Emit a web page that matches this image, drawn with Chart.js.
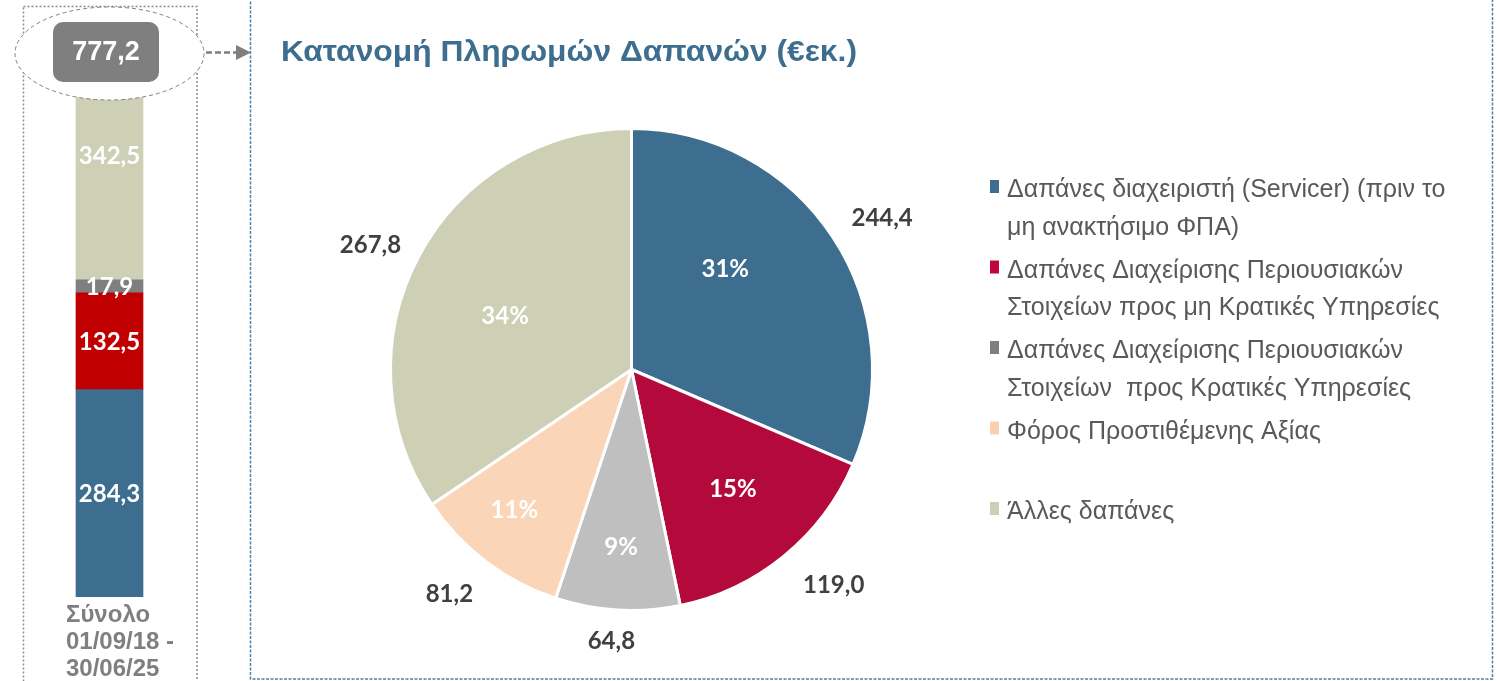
<!DOCTYPE html>
<html>
<head>
<meta charset="utf-8">
<script src="https://cdn.jsdelivr.net/npm/chart.js@4.4.1/dist/chart.umd.min.js"></script>
<style>
  html, body { margin: 0; padding: 0; background: #fff; }
  #wrap { position: relative; width: 1497px; height: 681px; overflow: hidden; }
  canvas { position: absolute; left: 0; top: 0; }
</style>
</head>
<body>
<div id="wrap">
  <canvas id="totalChart" width="260" height="681"></canvas>
  <canvas id="splitChart" width="1497" height="681"></canvas>
</div>
<script>
// Total column: one stacked bar, bottom to top
const totalCategory = [['Σύνολο', '01/09/18 -', '30/06/25']];
const totalSeries = ['Διαχειριστής', 'Μη Κρατικές Υπηρεσίες', 'Κρατικές Υπηρεσίες', 'Άλλες δαπάνες'];
const totalValues = [284.3, 132.5, 17.9, 342.5];
const totalColors = ['#3d6e8f', '#c00000', '#7f7f7f', '#cdd0b5'];

// Pie breakdown, clockwise from 12 o'clock
const pieLabels = [
    ['Δαπάνες διαχειριστή (Servicer) (πριν το', 'μη ανακτήσιμο ΦΠΑ)'],
    ['Δαπάνες Διαχείρισης Περιουσιακών', 'Στοιχείων προς μη Κρατικές Υπηρεσίες'],
    ['Δαπάνες Διαχείρισης Περιουσιακών', 'Στοιχείων  προς Κρατικές Υπηρεσίες'],
    ['Φόρος Προστιθέμενης Αξίας'],
    ['Άλλες δαπάνες']
];
const pieValues = [244.4, 119.0, 64.8, 81.2, 267.8];
const pieShares = ['31%', '15%', '9%', '11%', '34%'];
const pieColors = ['#3d6e8f', '#b3093b', '#bfbfbf', '#fad5b7', '#cdd0b5'];
const legendColors = ['#3d6e8f', '#c0043c', '#7f7f7f', '#fad0b0', '#cdd0b5'];

const chartTitle = 'Κατανομή Πληρωμών Δαπανών (€εκ.)';

// greek style decimals
const fmt = v => v.toFixed(1).replace('.', ',');
const totalSum = totalValues.reduce((a, b) => a + b, 0);

const dashedPath = (ctx, color, width, dash, draw) => {
    ctx.save();
    ctx.strokeStyle = color;
    ctx.lineWidth = width;
    ctx.setLineDash(dash);
    ctx.beginPath();
    draw();
    ctx.stroke();
    ctx.restore();
};

// frame, callout ellipse, total badge and arrow around the column
const totalDecor = {
    id: 'totalDecor',
    beforeDraw(chart) {
        const ctx = chart.ctx;
        dashedPath(ctx, '#8c8c8c', 1.5, [2, 2], () => ctx.rect(23.5, 6.5, 173.5, 700));
    },
    afterDatasetsDraw(chart) {
        const ctx = chart.ctx;
        ctx.save();
        ctx.fillStyle = '#fff';
        ctx.font = 'bold 24px Lato, "Open Sans", sans-serif';
        ctx.textAlign = 'center';
        ctx.textBaseline = 'middle';
        chart.data.datasets.forEach((ds, i) => {
            const bar = chart.getDatasetMeta(i).data[0];
            const { x, y, base } = bar.getProps(['x', 'y', 'base'], true);
            ctx.fillText(fmt(ds.data[0]), x, (y + base) / 2 + 1);
        });
        ctx.restore();
    },
    afterDraw(chart) {
        const ctx = chart.ctx;
        ctx.save();
        ctx.fillStyle = '#fff';
        ctx.beginPath();
        ctx.ellipse(109.5, 53.5, 94.5, 46.5, 0, 0, Math.PI * 2);
        ctx.fill();
        ctx.restore();
        dashedPath(ctx, '#7f7f7f', 1, [4, 3], () => ctx.ellipse(109.5, 53.5, 94.5, 46.5, 0, 0, Math.PI * 2));

        ctx.save();
        ctx.fillStyle = '#7f7f7f';
        ctx.beginPath();
        ctx.roundRect(53, 22, 106, 60, 10);
        ctx.fill();
        ctx.fillStyle = '#fff';
        ctx.font = 'bold 27px "Liberation Sans", Arial, sans-serif';
        ctx.textAlign = 'center';
        ctx.textBaseline = 'middle';
        ctx.fillText(fmt(totalSum), 106, 53);
        ctx.restore();

        dashedPath(ctx, '#7f7f7f', 2.5, [6, 3], () => { ctx.moveTo(206, 52.5); ctx.lineTo(238, 52.5); });
        ctx.save();
        ctx.fillStyle = '#7f7f7f';
        ctx.beginPath();
        ctx.moveTo(236, 45);
        ctx.lineTo(251, 52.5);
        ctx.lineTo(236, 60);
        ctx.closePath();
        ctx.fill();
        ctx.restore();
    }
};

const totalChart = new Chart(document.getElementById('totalChart'), {
    type: 'bar',
    data: {
        labels: totalCategory,
        datasets: totalValues.map((v, i) => ({
            label: totalSeries[i],
            data: [v],
            backgroundColor: totalColors[i],
            borderWidth: 0,
            barThickness: 67
        }))
    },
    options: {
        responsive: false,
        animation: false,
        layout: { padding: { left: 43, right: 84, top: 30, bottom: 0 } },
        plugins: { legend: { display: false }, tooltip: { enabled: false } },
        scales: {
            x: {
                stacked: true,
                grid: { display: false, drawTicks: false },
                border: { display: false },
                ticks: {
                    color: '#7f7f7f',
                    font: { family: '"Liberation Sans", Arial, sans-serif', size: 24, weight: 'bold', lineHeight: 1.13 },
                    padding: 5,
                    align: 'start',
                    labelOffset: -43.5,
                    maxRotation: 0
                },
                // fixed axis band, no extra side room for the left-aligned label
                afterFit: scale => {
                    scale.height = 84;
                    scale.paddingLeft = 0;
                    scale.paddingRight = 0;
                }
            },
            y: { stacked: true, display: false, min: 0, max: totalSum }
        }
    },
    plugins: [totalDecor]
});

// blue frame, title, slice labels and the legend
const pieDecor = {
    id: 'pieDecor',
    beforeDraw(chart, args, opts) {
        const ctx = chart.ctx;
        dashedPath(ctx, '#4f7fa5', 1.5, [3, 1.5], () => ctx.rect(250.5, -10, 1242, 689));
        ctx.save();
        ctx.fillStyle = '#3d6e8f';
        ctx.font = 'bold 30px "Liberation Sans", Arial, sans-serif';
        ctx.textBaseline = 'alphabetic';
        const w = ctx.measureText(chartTitle).width;
        ctx.translate(281, 61);
        ctx.scale(opts.titleWidth / w, 1);
        ctx.fillText(chartTitle, 0, 0);
        ctx.restore();
    },
    afterDatasetsDraw(chart, args, opts) {
        const ctx = chart.ctx;
        const ds = chart.data.datasets[0];
        const meta = chart.getDatasetMeta(0);
        ctx.save();
        ctx.textAlign = 'center';
        ctx.textBaseline = 'middle';
        meta.data.forEach((arc, i) => {
            const p = arc.getProps(['x', 'y', 'startAngle', 'endAngle', 'outerRadius'], true);
            const at = (frac, rf) => {
                const a = p.startAngle + (p.endAngle - p.startAngle) * frac;
                return [p.x + Math.cos(a) * p.outerRadius * rf, p.y + Math.sin(a) * p.outerRadius * rf];
            };
            ctx.font = 'bold 24px Lato, "Open Sans", sans-serif';
            ctx.fillStyle = '#fff';
            const [sx, sy] = at(opts.shareAngle[i], opts.shareRadius[i]);
            ctx.fillText(pieShares[i], sx, sy);
            ctx.fillStyle = '#404040';
            const [vx, vy] = at(opts.valueAngle[i], opts.valueRadius[i]);
            ctx.fillText(fmt(ds.data[i]), vx, vy);
        });
        ctx.restore();
    },
    afterDraw(chart, args, opts) {
        const ctx = chart.ctx;
        ctx.save();
        ctx.font = '25px "Liberation Sans", Arial, sans-serif';
        ctx.textBaseline = 'alphabetic';
        chart.data.labels.forEach((lines, i) => {
            const top = opts.legendTop + i * opts.itemStep;
            ctx.fillStyle = legendColors[i];
            ctx.fillRect(990, top - 8, 9, 13);
            ctx.fillStyle = '#595959';
            lines.forEach((line, j) => ctx.fillText(line, 1007, top + 9 + j * opts.lineStep));
        });
        ctx.restore();
    }
};

const splitChart = new Chart(document.getElementById('splitChart'), {
    type: 'pie',
    data: {
        labels: pieLabels,
        datasets: [{
            data: pieValues,
            backgroundColor: pieColors,
            borderColor: '#fff',
            borderWidth: 3
        }]
    },
    options: {
        responsive: false,
        animation: false,
        layout: { padding: { left: 389, right: 623, top: 127, bottom: 69 } },
        plugins: {
            legend: { display: false },
            tooltip: { enabled: false },
            pieDecor: {
                titleWidth: 576,
                shareAngle: [0.38, 0.48, 0.5, 0.57, 0.46],
                shareRadius: [0.57, 0.65, 0.74, 0.76, 0.57],
                valueAngle: [0.52, 0.43, 0.53, 0.55, 0.48],
                valueRadius: [1.215, 1.228, 1.13, 1.2, 1.2],
                legendTop: 188,
                itemStep: 80.5,
                lineStep: 37.5
            }
        }
    },
    plugins: [pieDecor]
});
</script>
</body>
</html>
